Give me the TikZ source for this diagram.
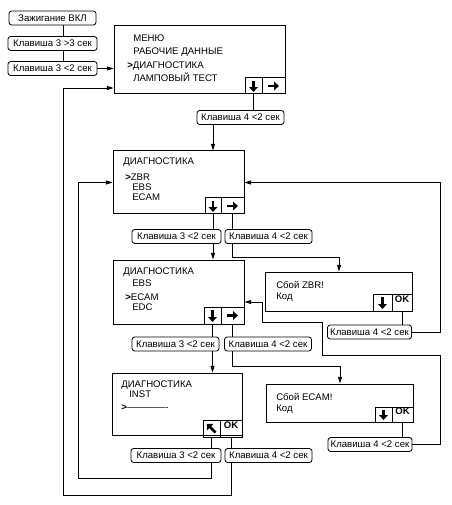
\documentclass[tikz,border=0pt]{standalone}
\usepackage{fontspec}
\setmainfont{Liberation Sans}
\usetikzlibrary{arrows.meta,fit}

\begin{document}
\begin{tikzpicture}[x=0.75pt, y=-0.75pt,
    every node/.style={font=\fontsize{7.2}{8}\selectfont},
    keybox/.style={draw, rounded corners=2pt, line width=0.6pt, inner sep=1pt, minimum height=14*0.75pt, minimum width=87*0.75pt},
    screen/.style={draw, line width=0.75pt, inner sep=0pt},
    cell/.style={draw, line width=0.75pt, inner sep=0pt},
    txt/.style={anchor=west, inner sep=0pt},
    link/.style={line width=0.6pt},
    go/.style={link, -{Triangle[length=5pt,width=3pt]}},
    glyph/.style={line width=2pt, -{Triangle[length=3.5pt,width=6.5pt]}}]
    \path[use as bounding box] (0,0) rectangle (451,505);

    \node[keybox] (ign) at (52.5,18) {Зажигание ВКЛ};
    \node[keybox, minimum width=89*0.75pt] (hold) at (52.5,43.5) {Клавиша 3 >3 сек};
    \node[keybox, minimum width=89*0.75pt] (k3top) at (52.5,68.5) {Клавиша 3 <2 сек};
    \coordinate (left) at (63,88);
    \coordinate (lo) at (63,495);
    \coordinate (li) at (78,478);

    \node[screen, fit={(114,26) (285,94)}] (menu) {};
    \node[cell, fit={(245,78) (262,94)}] (mdown) {};
    \node[cell, fit={(262,78) (285,94)}] (mright) {};
    \draw[glyph] ([yshift=-2.5pt]mdown.north) -- ([yshift=2pt]mdown.south);
    \draw[glyph] ([xshift=-4pt]mright.center) -- ([xshift=4pt]mright.center);
    \node[txt] (m1) at (133,38) {МЕНЮ};
    \node[txt] (m2) at (133,52) {РАБОЧИЕ ДАННЫЕ};
    \node[txt] (m3) at (127,66) {\textbf{>}ДИАГНОСТИКА};
    \node[txt] (m4) at (133,77) {ЛАМПОВЫЙ ТЕСТ};
    \node[keybox] (k4menu) at (240.5,117.5) {Клавиша 4 <2 сек};

    \node[screen, fit={(113,151) (244,214)}] (d1) {};
    \node[cell, fit={(205,198) (221,214)}] (d1down) {};
    \node[cell, fit={(221,198) (244,214)}] (d1right) {};
    \draw[glyph] ([yshift=-2.5pt]d1down.north) -- ([yshift=2pt]d1down.south);
    \draw[glyph] ([xshift=-4pt]d1right.center) -- ([xshift=4pt]d1right.center);
    \node[txt] (d1a) at (123,162) {ДИАГНОСТИКА};
    \node[txt] (d1b) at (125,177) {\textbf{>}ZBR};
    \node[txt] (d1c) at (132,187) {EBS};
    \node[txt] (d1d) at (132,197) {ECAM};
    \node[keybox, minimum width=89*0.75pt] (k3b) at (176.5,236.5) {Клавиша 3 <2 сек};
    \node[keybox] (k4b) at (268.5,236.5) {Клавиша 4 <2 сек};

    \node[screen, fit={(265,272) (412,311)}] (zbr) {};
    \node[cell, fit={(373,294) (392,311)}] (zdown) {};
    \node[cell, fit={(392,294) (412,311)}] (zok) {\bfseries OK};
    \draw[glyph] ([yshift=-2.5pt]zdown.north) -- ([yshift=2pt]zdown.south);
    \node[txt] (z1) at (276,285) {Сбой ZBR!};
    \node[txt] (z2) at (276,297) {Код};
    \node[keybox, minimum width=84*0.75pt] (zk4) at (369.5,332) {Клавиша 4 <2 сек};
    \coordinate (rz) at (440,0);
    \coordinate (zbrin) at (339,257);

    \node[screen, fit={(113,260) (244,324)}] (d2) {};
    \node[cell, fit={(204,307) (221,324)}] (d2down) {};
    \node[cell, fit={(221,307) (244,324)}] (d2right) {};
    \draw[glyph] ([yshift=-2.5pt]d2down.north) -- ([yshift=2pt]d2down.south);
    \draw[glyph] ([xshift=-4pt]d2right.center) -- ([xshift=4pt]d2right.center);
    \node[txt] (d2a) at (123,272) {ДИАГНОСТИКА};
    \node[txt] (d2b) at (132,283) {EBS};
    \node[txt] (d2c) at (125,297) {\textbf{>}ECAM};
    \node[txt] (d2d) at (132,307) {EDC};
    \node[keybox] (k3c) at (175.5,344) {Клавиша 3 <2 сек};
    \node[keybox] (k4c) at (268,344) {Клавиша 4 <2 сек};

    \node[screen, fit={(266,384) (413,422)}] (ecam) {};
    \node[cell, fit={(375,407) (392,422)}] (edown) {};
    \node[cell, fit={(392,407) (413,422)}] (eok) {\bfseries OK};
    \draw[glyph] ([yshift=-2.5pt]edown.north) -- ([yshift=2pt]edown.south);
    \node[txt] (e1) at (276,397) {Сбой ECAM!};
    \node[txt] (e2) at (276,409) {Код};
    \node[keybox, minimum width=84*0.75pt] (ek4) at (370,444.5) {Клавиша 4 <2 сек};
    \coordinate (ecamin) at (340,366);
    \coordinate (r1) at (440,355);
    \coordinate (r2) at (322,322);
    \coordinate (r3) at (262,302);

    \node[screen, fit={(112,373) (242,435)}] (d3) {};
    \node[cell, fit={(203,420) (220,437)}] (d3up) {};
    \node[cell, fit={(220,420) (242,437)}] (d3ok) {\bfseries OK};
    \draw[glyph] ([shift={(3pt,-3pt)}]d3up.center) -- ([shift={(-3.5pt,3.5pt)}]d3up.center);
    \node[txt] (d3a) at (121,385) {ДИАГНОСТИКА};
    \node[txt] (d3b) at (129,394) {INST};
    \node[txt] (d3c) at (121,408) {\textbf{>}-------------};
    \node[keybox, minimum width=90*0.75pt] (k3d) at (176,455.5) {Клавиша 3 <2 сек};
    \node[keybox] (k4d) at (268.5,455.5) {Клавиша 4 <2 сек};

    \draw[link] (ign.south -| left) -- (hold.north -| left);
    \draw[link] (hold.south -| left) -- (k3top.north -| left);
    \draw[go] (k3top.east) -- (k3top.east -| menu.west);
    \draw[link] (mdown.south) -- (mdown.south |- k4menu.north);
    \draw[go] (k4menu.south -| d1down.south) -- (d1.north -| d1down.south);

    \draw[link] (d1down.south) -- (d1down.south |- k3b.north);
    \draw[link] (d1right.south) -- (d1right.south |- k4b.north);
    \draw[go] (k3b.south -| d1down.south) -- (d2.north -| d1down.south);
    \draw[go] (k4b.south -| d1right.south) |- (zbrin) -- (zbrin |- zbr.north);
    \draw[link] (zok.south) -- (zok.south |- zk4.north);
    \draw[go] (zk4.east) -| (rz |- d1.east) -- (d1.east);

    \draw[link] (d2down.south) -- (d2down.south |- k3c.north);
    \draw[link] (d2right.south) -- (d2right.south |- k4c.north);
    \draw[go] (k3c.south -| d2down.south) -- (d3.north -| d2down.south);
    \draw[go] (k4c.south -| d2right.south) |- (ecamin) -- (ecamin |- ecam.north);
    \draw[link] (eok.south) -- (eok.south |- ek4.north);
    \draw[go] (ek4.east) -| (r1) -| (r2) -| (r3) -- (r3 -| d2.east);

    \draw[link] (d3up.south) -- (d3up.south |- k3d.north);
    \draw[link] (d3ok.south) -- (d3ok.south |- k4d.north);
    \draw[go] (k3d.south -| d3up.south) |- (li) |- (d1.west);
    \draw[go] (k4d.south -| d3ok.south) |- (lo) -- (left) -- (left -| menu.west);
\end{tikzpicture}
\end{document}
